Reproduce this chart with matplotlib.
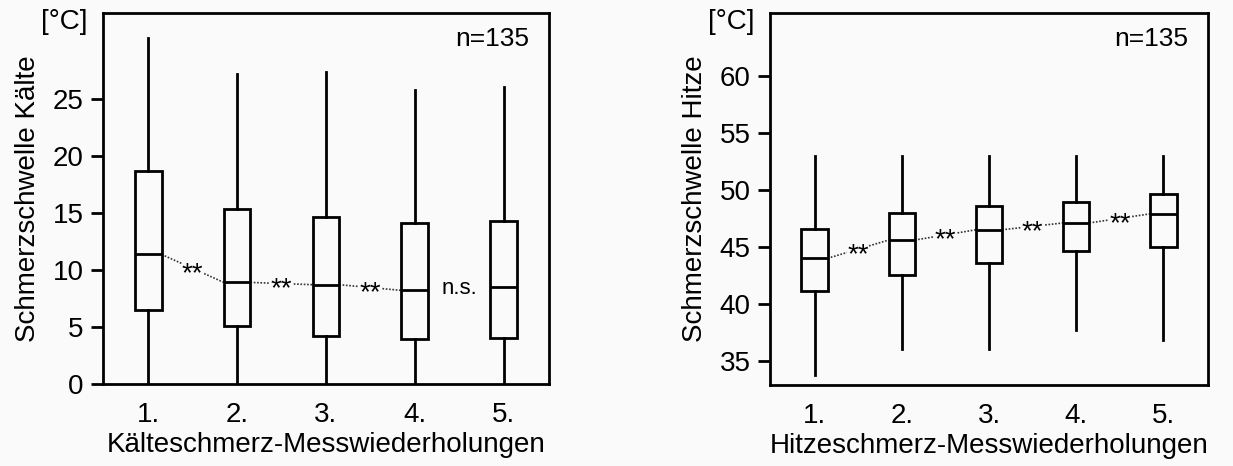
import matplotlib.pyplot as plt

plt.rcParams['font.family'] = ['Liberation Sans', 'DejaVu Sans']

runs = ['1.', '2.', '3.', '4.', '5.']

# Kälte (cold pain threshold)
cold_whislo = [0, 0, 0, 0, 0]
cold_q1 = [6.45, 5.1, 4.2, 3.9, 4.05]
cold_med = [11.35, 8.9, 8.7, 8.2, 8.5]
cold_q3 = [18.7, 15.3, 14.6, 14.1, 14.3]
cold_whishi = [30.3, 27.2, 27.3, 25.8, 26.0]
cold_sig = ['**', '**', '**', 'n.s.']

# Hitze (heat pain threshold)
heat_whislo = [33.8, 36.05, 36.05, 37.7, 36.85]
heat_q1 = [41.1, 42.5, 43.6, 44.6, 45.0]
heat_med = [44.0, 45.6, 46.5, 47.1, 47.9]
heat_q3 = [46.6, 48.0, 48.6, 48.9, 49.65]
heat_whishi = [53.0, 53.0, 53.0, 53.0, 53.0]
heat_sig = ['**', '**', '**', '**']

n_text = 'n=135'
bg = '#fafafa'


def draw_panel(ax, whislo, q1, med, q3, whishi, sig, ylabel, xlabel, yticks, ylim):
    stats = []
    for i in range(len(runs)):
        stats.append({'whislo': whislo[i], 'q1': q1[i], 'med': med[i],
                      'q3': q3[i], 'whishi': whishi[i], 'fliers': []})
    pos = list(range(1, len(runs) + 1))
    w = 0.3
    ax.bxp(stats, positions=pos, widths=w, showcaps=False, showfliers=False,
           patch_artist=True,
           boxprops=dict(facecolor=bg, edgecolor='black', linewidth=2),
           medianprops=dict(color='black', linewidth=2),
           whiskerprops=dict(color='black', linewidth=2))

    # dotted lines between medians with significance markers
    for i, s in enumerate(sig):
        xm = pos[i] + 0.5
        ym = (med[i] + med[i + 1]) / 2
        if s == 'n.s.':
            ax.text(xm, ym, s, ha='center', va='center', fontsize=16)
            continue
        ax.plot([pos[i] + w / 2, pos[i + 1] - w / 2], [med[i], med[i + 1]],
                linestyle=(0, (1, 1)), color='#333333', linewidth=1.2, zorder=1)
        ax.annotate(s, (xm, ym), xytext=(0, -4), textcoords='offset points',
                    ha='center', va='center', fontsize=20,
                    bbox=dict(facecolor=bg, edgecolor='none', pad=0.3), zorder=2)

    ax.set_facecolor(bg)
    ax.set_xlim(0.49, 5.51)
    ax.set_ylim(*ylim)
    ax.set_xticks(pos)
    ax.set_xticklabels(runs)
    ax.set_yticks(yticks)
    ax.tick_params(axis='x', length=0, pad=13, labelsize=20)
    ax.tick_params(axis='y', length=9, width=2, pad=5, labelsize=20)
    for sp in ax.spines.values():
        sp.set_linewidth(2)
    ax.set_ylabel(ylabel, fontsize=20, labelpad=8)
    ax.set_xlabel(xlabel, fontsize=20, labelpad=3)
    ax.text(0.955, 0.93, n_text, transform=ax.transAxes, ha='right', va='center', fontsize=19)
    ax.text(-0.035, 0.975, '[°C]', transform=ax.transAxes, ha='right', va='center', fontsize=20)


fig = plt.figure(figsize=(12.33, 4.66), dpi=100, facecolor=bg)
ax1 = fig.add_axes([0.0835, 0.176, 0.3617, 0.796])
ax2 = fig.add_axes([0.6245, 0.174, 0.3552, 0.798])

draw_panel(ax1, cold_whislo, cold_q1, cold_med, cold_q3, cold_whishi, cold_sig,
           'Schmerzschwelle Kälte', 'Kälteschmerz-Messwiederholungen',
           [0, 5, 10, 15, 20, 25], (0, 32.5))
draw_panel(ax2, heat_whislo, heat_q1, heat_med, heat_q3, heat_whishi, heat_sig,
           'Schmerzschwelle Hitze', 'Hitzeschmerz-Messwiederholungen',
           [35, 40, 45, 50, 55, 60], (32.9, 65.5))

fig.savefig('out.png', dpi=100, facecolor=bg)
